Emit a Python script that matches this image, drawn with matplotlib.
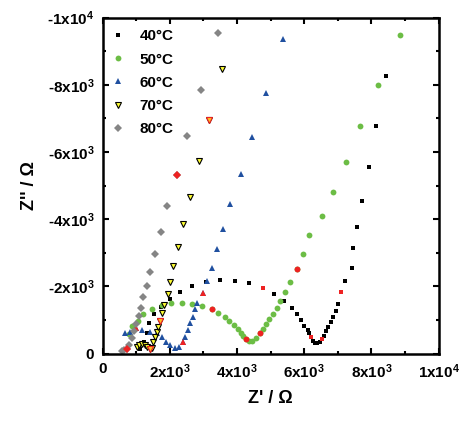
import matplotlib
matplotlib.use("Agg")
import matplotlib.pyplot as plt
import matplotlib.ticker as ticker
import numpy as np

plt.rcParams['font.family'] = ['Liberation Sans', 'DejaVu Sans']
plt.rcParams['font.weight'] = 'bold'
plt.rcParams['axes.labelweight'] = 'bold'
plt.rcParams['mathtext.default'] = 'regular'

# Nyquist data, Z' and -Z'' in kOhm
re_40 = [1.10, 1.22, 1.32, 1.39, 1.54, 1.73, 2.00, 2.30, 2.67, 3.07, 3.50, 3.95, 4.36, 4.77, 5.11,
         5.41, 5.63, 5.79, 5.91, 6.00, 6.10, 6.15, 6.19, 6.25, 6.32, 6.39, 6.47, 6.52, 6.59, 6.65,
         6.72, 6.79, 6.86, 6.93, 7.01, 7.10, 7.21, 7.43, 7.46, 7.58, 7.72, 7.93, 8.14, 8.43]
im_40 = [0.15, 0.35, 0.62, 0.90, 1.17, 1.39, 1.63, 1.82, 2.01, 2.12, 2.19, 2.17, 2.09, 1.95, 1.77,
         1.56, 1.35, 1.17, 0.99, 0.82, 0.70, 0.60, 0.48, 0.38, 0.32, 0.32, 0.36, 0.44, 0.52, 0.66,
         0.79, 0.93, 1.08, 1.27, 1.49, 1.82, 2.16, 2.54, 3.13, 3.77, 4.54, 5.55, 6.77, 8.26]
red_40 = [13, 22, 27, 35]

re_50 = [0.79, 0.88, 1.04, 1.21, 1.46, 1.76, 2.03, 2.35, 2.67, 2.96, 3.24, 3.43, 3.63, 3.77, 3.91,
         4.02, 4.12, 4.19, 4.26, 4.35, 4.44, 4.56, 4.68, 4.78, 4.87, 4.96, 5.06, 5.18, 5.27, 5.43,
         5.57, 5.78, 5.95, 6.14, 6.52, 6.85, 7.24, 7.65, 8.19, 8.84]
im_50 = [0.57, 0.83, 0.97, 1.17, 1.33, 1.44, 1.50, 1.52, 1.48, 1.43, 1.32, 1.21, 1.08, 0.97, 0.85,
         0.73, 0.62, 0.53, 0.43, 0.38, 0.38, 0.45, 0.60, 0.73, 0.87, 1.02, 1.17, 1.35, 1.57, 1.83,
         2.14, 2.52, 2.96, 3.54, 4.09, 4.82, 5.70, 6.77, 8.00, 9.47]
red_50 = [10, 18, 22, 31]

re_60 = [0.67, 0.81, 0.99, 1.18, 1.41, 1.61, 1.76, 1.89, 2.00, 2.15, 2.28, 2.38, 2.46, 2.53, 2.60,
         2.68, 2.75, 2.82, 2.98, 3.11, 3.24, 3.39, 3.59, 3.80, 4.11, 4.44, 4.86, 5.38]
im_60 = [0.60, 0.65, 0.75, 0.70, 0.65, 0.60, 0.50, 0.35, 0.25, 0.18, 0.20, 0.35, 0.50, 0.70, 0.90,
         1.09, 1.32, 1.50, 1.79, 2.17, 2.56, 3.11, 3.70, 4.46, 5.34, 6.45, 7.76, 9.36]
red_60 = [2, 11, 18]

re_70 = [1.01, 1.08, 1.17, 1.26, 1.33, 1.41, 1.46, 1.51, 1.56, 1.61, 1.66, 1.71, 1.78, 1.83, 1.93,
         2.00, 2.10, 2.25, 2.40, 2.61, 2.88, 3.17, 3.54]
im_70 = [0.19, 0.27, 0.28, 0.25, 0.19, 0.13, 0.18, 0.35, 0.50, 0.65, 0.80, 0.98, 1.21, 1.44, 1.76,
         2.13, 2.61, 3.17, 3.85, 4.67, 5.72, 6.96, 8.48]
red_70 = [5, 11, 21]

re_80 = [0.57, 0.64, 0.72, 0.79, 0.86, 0.93, 1.00, 1.07, 1.13, 1.21, 1.31, 1.41, 1.56, 1.73, 1.92,
         2.20, 2.52, 2.92, 3.42]
im_80 = [0.07, 0.12, 0.15, 0.26, 0.47, 0.68, 0.88, 1.11, 1.35, 1.67, 2.01, 2.44, 2.97, 3.61, 4.38,
         5.33, 6.48, 7.86, 9.53]
red_80 = [2, 15]

labels = ['40°C', '50°C', '60°C', '70°C', '80°C']

fig = plt.figure(figsize=(4.68, 4.21), dpi=100)
ax = fig.add_axes([0.2194, 0.1601, 0.7179, 0.7979])

styles = [
    dict(marker='s', ms=3.4, mfc='black', mec='black', mew=0),
    dict(marker='o', ms=4.2, mfc='#6cbd45', mec='#6cbd45', mew=0),
    dict(marker='^', ms=4.8, mfc='#2050a0', mec='#2050a0', mew=0),
    dict(marker='v', ms=4.6, mfc='#ffff33', mec='black', mew=0.8),
    dict(marker='D', ms=4.0, mfc='#858585', mec='#858585', mew=0),
]
red_styles = [
    dict(mfc='#ee2222', mec='#ee2222'),
    dict(mfc='#ee2222', mec='#ee2222'),
    dict(mfc='#ee2222', mec='#ee2222'),
    dict(mfc='#ffc020', mec='#ee2222'),
    dict(mfc='#ee2222', mec='#ee2222'),
]

series = [(re_40, im_40, red_40), (re_50, im_50, red_50), (re_60, im_60, red_60),
          (re_70, im_70, red_70), (re_80, im_80, red_80)]

for (zr, zi, red), lab, st, rst in zip(series, labels, styles, red_styles):
    zr = np.array(zr) * 1000
    zi = -np.array(zi) * 1000
    ax.plot(zr, zi, linestyle='none', label=lab, **st)
    rs = dict(st)
    rs.update(rst)
    ax.plot(zr[red], zi[red], linestyle='none', **rs)

ax.set_xlim(0, 10000)
ax.set_ylim(0, -10000)
ax.xaxis.set_major_locator(ticker.MultipleLocator(2000))
ax.xaxis.set_minor_locator(ticker.MultipleLocator(1000))
ax.yaxis.set_major_locator(ticker.MultipleLocator(2000))
ax.yaxis.set_minor_locator(ticker.MultipleLocator(1000))


def sci(v, pos):
    if v == 0:
        return '0'
    e = int(np.floor(np.log10(abs(v)) + 1e-9))
    m = v / 10 ** e
    return '%dx10$^{%d}$' % (round(m), e)


ax.xaxis.set_major_formatter(ticker.FuncFormatter(sci))
ax.yaxis.set_major_formatter(ticker.FuncFormatter(sci))

for s in ax.spines.values():
    s.set_linewidth(1.8)
ax.tick_params(which='both', direction='in', top=True, right=True, labelsize=11, pad=6)
ax.tick_params(which='major', length=4.5, width=1.5)
ax.tick_params(which='minor', length=2.3, width=1.5)

ax.set_xlabel("Z' / \u03a9", fontsize=13, labelpad=7)
ax.set_ylabel("Z'' / \u03a9", fontsize=13, labelpad=7)

ax.legend(loc='upper left', bbox_to_anchor=(0.032, 0.965), frameon=False, fontsize=11,
          handlelength=0.6, handletextpad=1.1, labelspacing=0.6, borderpad=0, borderaxespad=0)

fig.savefig('out.png', dpi=100)
